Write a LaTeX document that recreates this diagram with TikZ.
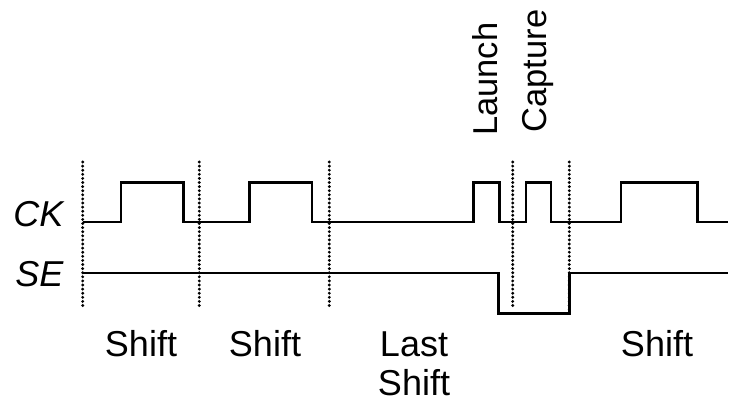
\documentclass[tikz,border=0pt]{standalone}
\usepackage{fontspec}
\setmainfont{Liberation Sans}
\begin{document}
\begin{tikzpicture}[x=1pt,y=-1pt,
  wave/.style={line width=2.4pt, line join=miter, line cap=butt},
  divider/.style={line width=3.2pt, dash pattern=on 0pt off 4.1pt, line cap=round},
  sig/.style={inner sep=0pt, font=\fontsize{36}{40}\selectfont\itshape, anchor=base east},
  phase/.style={inner sep=0pt, font=\fontsize{36}{39}\selectfont, anchor=base, align=center, text depth=0pt},
  tag/.style={inner sep=0pt, font=\fontsize{34.5}{40}\selectfont, rotate=90, anchor=base west}]
\useasboundingbox (0,0) rectangle (730,404);
% dividers
\foreach \n/\x/\b in {d1/82.7/307, d2/199.3/307, d3/329.3/307, d4/512.7/308, d5/569.3/310}{
  \coordinate (\n t) at (\x,162);
  \coordinate (\n b) at (\x,\b);
  \draw[divider] (\n t) -- (\n b);
}
% signal names
\node[sig] (ck) at (63.5,226.5) {CK};
\node[sig] (se) at (63.5,286) {SE};
% CK waveform
\coordinate (cks) at (82.7,221.7);
\coordinate (cke) at (728,221.7);
\draw[wave] (cks) -- (121,221.7) |- (183.3,182.3) |- (249.3,221.7) |- (311.7,182.3) |- (473.3,221.7)
  |- (499.3,182.3) |- (526,221.7) |- (551,182.3) |- (620.7,221.7) |- (697.3,182.3) |- (cke);
% SE waveform
\coordinate (ses) at (82.7,273);
\coordinate (see) at (728,273);
\draw[wave] (ses) -- (498.3,273) |- (569.3,313.3) |- (see);
% labels
\node[tag] (launch) at (497.7,136) {Launch};
\node[tag] (capture) at (546,132.7) {Capture};
\node[phase] (s1) at (141,356) {Shift};
\node[phase] (s2) at (265,356) {Shift};
\node[phase] (s3) at (414,395.5) {Last\\Shift};
\node[phase] (s4) at (657,356) {Shift};
\end{tikzpicture}
\end{document}
